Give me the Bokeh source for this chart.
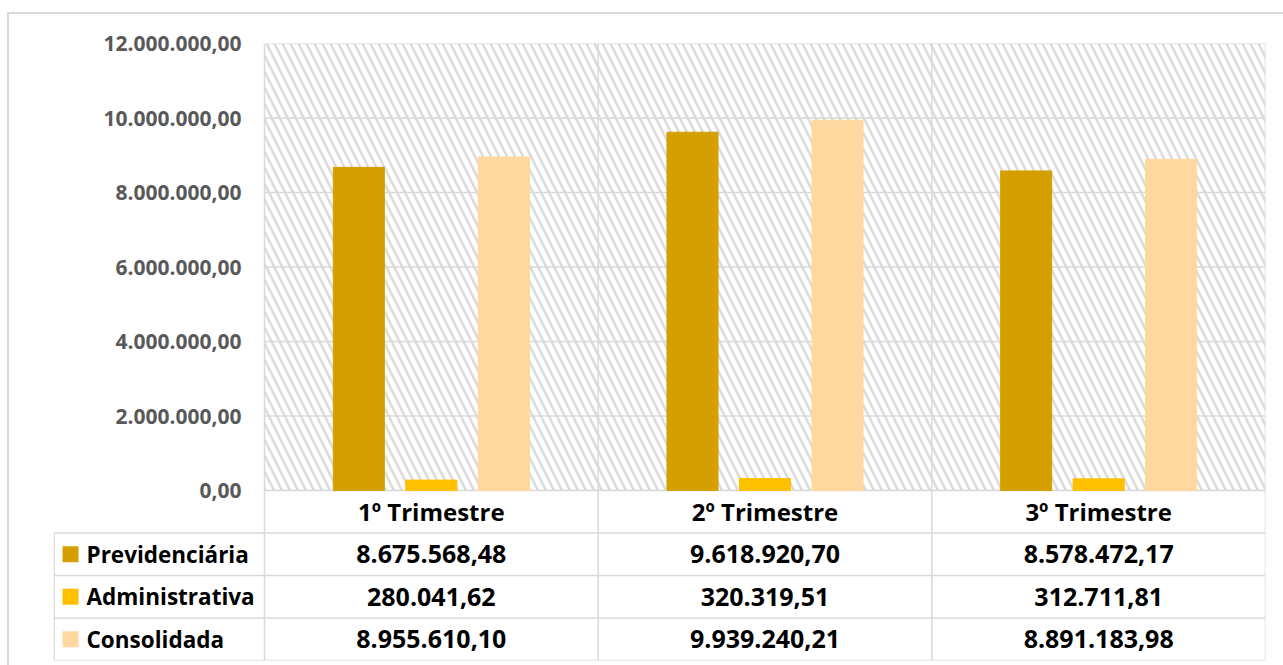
from bokeh.plotting import figure
from bokeh.models import Range1d, FixedTicker, BoxAnnotation
from bokeh.core.properties import value
from bokeh.embed import file_html
from bokeh.resources import INLINE

# ---------------- data ----------------
categories = ["1º Trimestre", "2º Trimestre", "3º Trimestre"]
series_names = ["Previdenciária", "Administrativa", "Consolidada"]
previdenciaria = [8675568.48, 9618920.70, 8578472.17]
administrativa = [280041.62, 320319.51, 312711.81]
consolidada = [8955610.10, 9939240.21, 8891183.98]
series_colors = ["#D4A000", "#FFC000", "#FFD8A0"]
y_ticks = [0, 2000000, 4000000, 6000000, 8000000, 10000000, 12000000]


def br(v):
    s = f"{v:,.2f}"
    return s.replace(",", "X").replace(".", ",").replace("X", ".")


y_tick_labels = [br(t) for t in y_ticks]
series_values = [previdenciaria, administrativa, consolidada]

# ---------------- layout constants (pixels) ----------------
FONT = "Open Sans"
GRID = "#d9d9d9"
W, H = 1283, 665
TABLE_L = 53          # left edge of the table's name column
PLOT_L = 264          # left edge of plot area
PLOT_R = 1265         # right edge of plot area
PLOT_T = 43           # top of plot area
PLOT_B = 490          # bottom of plot area (value 0)
TABLE_B = 660         # bottom of the table
ROW_PX = (TABLE_B - PLOT_B) / 4.0
CAT_PX = (PLOT_R - PLOT_L) / 3.0
Y_MAX = 12000000
K = Y_MAX / (PLOT_B - PLOT_T)   # value per pixel
ROW = ROW_PX * K
BAR_W = 0.153
BAR_STEP = 0.2173

x_left = -(PLOT_L - TABLE_L) / CAT_PX
y_bottom = -(TABLE_B - PLOT_B) * K

p = figure(width=W, height=H, x_range=Range1d(x_left, 3), y_range=Range1d(y_bottom, Y_MAX),
           min_border_left=TABLE_L, min_border_right=W - PLOT_R, min_border_top=PLOT_T,
           min_border_bottom=H - TABLE_B, x_axis_location=None, toolbar_location=None,
           output_backend="svg")
p.outline_line_color = None
p.background_fill_color = "white"
p.border_fill_color = None
p.grid.visible = False
p.styles = {
    "background": "linear-gradient(#d9d9d9, #d9d9d9) 7px 13px / 2px 660px no-repeat, "
                  "linear-gradient(#d9d9d9, #d9d9d9) 7px 12px / 1290px 2px no-repeat, #ffffff"
}

# hatched plot-area background
hatch = BoxAnnotation(left=0, right=3, bottom=0, top=Y_MAX, fill_color="white", fill_alpha=1.0,
                      line_alpha=0, hatch_pattern="\\", hatch_color="#dcdcdc", hatch_scale=16,
                      hatch_weight=2.6, level="image")
p.add_layout(hatch)

# y axis (labels sit left of the plot area)
ax = p.yaxis[0]
ax.ticker = FixedTicker(ticks=y_ticks)
ax.major_label_overrides = {t: lbl for t, lbl in zip(y_ticks, y_tick_labels)}
ax.axis_line_color = None
ax.major_tick_line_color = None
ax.minor_tick_line_color = None
ax.major_tick_in = 0
ax.major_tick_out = 0
ax.major_label_standoff = -(PLOT_L - 23 - TABLE_L)
ax.major_label_text_font = FONT
ax.major_label_text_font_style = "bold"
ax.major_label_text_font_size = "21px"
ax.major_label_text_color = "#595959"

n_cat = len(categories)
n_rows = len(series_names) + 1
col_left = x_left

# grid lines + plot area border + table lines
x0s, y0s, x1s, y1s = [], [], [], []
for t in y_ticks:
    x0s.append(0); y0s.append(t); x1s.append(n_cat); y1s.append(t)
for c in range(n_cat + 1):
    x0s.append(c); y0s.append(-n_rows * ROW); x1s.append(c); y1s.append(Y_MAX)
for r in range(1, n_rows + 1):
    x0s.append(col_left + 0.002); y0s.append(-r * ROW); x1s.append(n_cat); y1s.append(-r * ROW)
x0s.append(col_left + 0.002); y0s.append(-ROW); x1s.append(col_left + 0.002); y1s.append(-n_rows * ROW)
p.segment(x0=x0s, y0=y0s, x1=x1s, y1=y1s, line_color=GRID, line_width=1.5)

# bars
for j, vals in enumerate(series_values):
    xs = [i + 0.5 + (j - 1) * BAR_STEP for i in range(n_cat)]
    p.vbar(x=xs, top=vals, bottom=0, width=BAR_W, fill_color=series_colors[j],
           line_color=series_colors[j], line_width=1)

# data table texts
cx = [i + 0.5 for i in range(n_cat)]
p.text(x=cx, y=[-0.5 * ROW] * n_cat, text=categories, text_font=value(FONT),
       text_font_style="bold", text_font_size="24px", text_align="center",
       text_baseline="middle", text_color="#000000")
for j, vals in enumerate(series_values):
    p.text(x=cx, y=[-(j + 1.5) * ROW] * n_cat, text=[br(v) for v in vals],
           text_font=value(FONT), text_font_style="bold", text_font_size="25px",
           text_align="center", text_baseline="middle", text_color="#000000")

key_x = (70 - PLOT_L) / CAT_PX
name_x = (86 - PLOT_L) / CAT_PX
ry = [-(j + 1.5) * ROW for j in range(len(series_names))]
p.scatter(x=[key_x] * len(series_names), y=ry, marker="square", size=16,
          fill_color=series_colors, line_color=None)
p.text(x=[name_x] * len(series_names), y=ry, text=series_names, text_font=value(FONT),
       text_font_style="bold", text_font_size="22.5px", text_align="left",
       text_baseline="middle", text_color="#000000")

open("out.html", "w").write(file_html(p, INLINE))
